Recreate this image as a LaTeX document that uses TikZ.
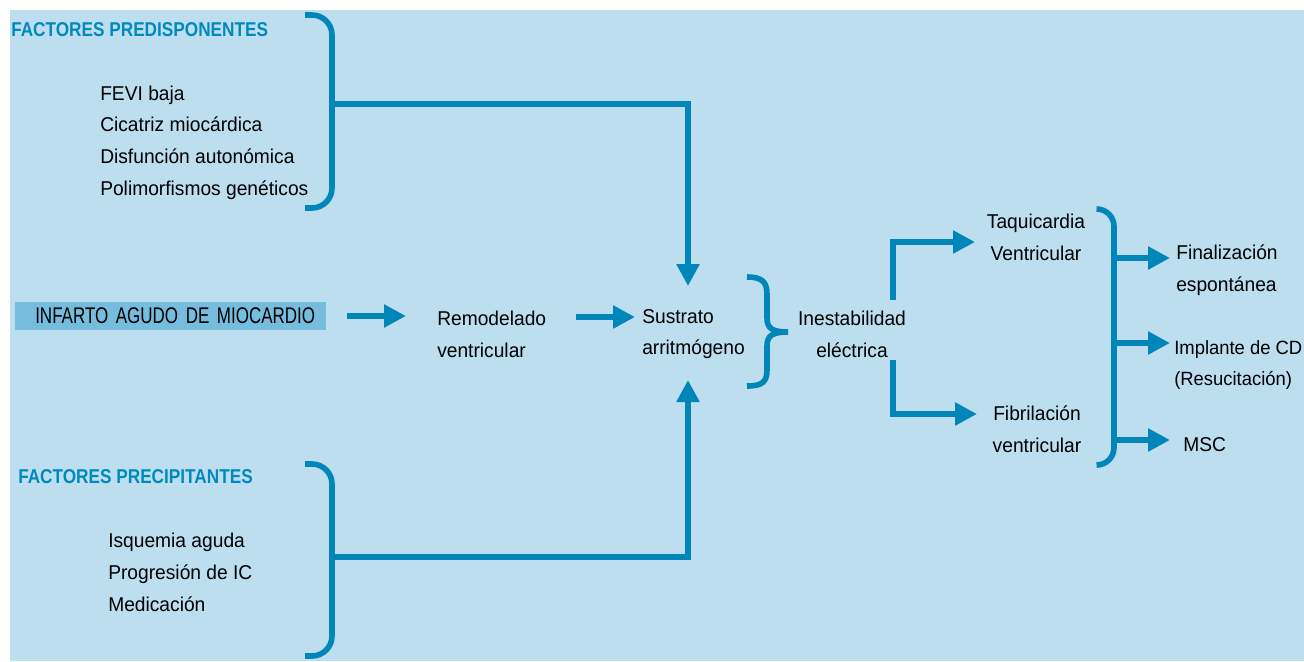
\documentclass[tikz,border=0pt]{standalone}
\usepackage{fontspec}
\setmainfont{Liberation Sans}[FakeStretch=0.96]
\newfontfamily\headfont{Liberation Sans}[FakeStretch=0.86]
\newfontfamily\boxfont{Liberation Sans}[FakeStretch=0.75]
\usetikzlibrary{calc,arrows.meta,positioning}
\definecolor{bgblue}{RGB}{189,222,238}
\definecolor{darkblue}{RGB}{0,134,185}
\definecolor{headblue}{RGB}{0,137,190}
\definecolor{boxblue}{RGB}{117,188,221}

\begin{document}
\begin{tikzpicture}[x=0.75pt, y=-0.75pt, >={Triangle[length=16.5pt, width=16.5pt]}, flow/.style={draw=darkblue, line width=4.9pt, ->}, bracketline/.style={draw=darkblue, line width=4.2pt}]
    % Define styles for text blocks, headings and the infarct box
    \tikzstyle{txt} = [inner sep=0pt, font=\fontsize{15}{23.8}\selectfont]
    \tikzstyle{heading} = [inner sep=0pt, text=headblue, font=\headfont\bfseries\fontsize{15}{18}\selectfont]
    \tikzstyle{infbox} = [fill=boxblue, minimum height=21pt, text width=218.25pt, inner xsep=15pt, inner ysep=0pt, align=left, font=\boxfont\fontsize{17}{20}\selectfont]

    % Background panel
    \useasboundingbox (0,0) rectangle (1304,661);
    \fill[bgblue] (10,10) rectangle (1304,661);

    % Nodes placement
    \node [heading, anchor=west] (predisp) at (11,30) {FACTORES PREDISPONENTES};
    \node [txt, anchor=west, align=left] (predlist) at (100,142.5) {FEVI baja\\Cicatriz miocárdica\\Disfunción autonómica\\Polimorfismos genéticos};
    \node [infbox, anchor=west, inner xsep=0pt, text width=233.25pt] (infarto) at (15,316) {\hspace*{15pt}INFARTO AGUDO DE MIOCARDIO};
    \node [txt, anchor=west, align=left] (remodelado) at (437,334) {Remodelado\\ventricular};
    \node [txt, anchor=west, align=left] (sustrato) at (642,334) {Sustrato\\arritmógeno};
    \node [txt, align=center] (inestab) at (852,334) {Inestabilidad\\eléctrica};
    \node [txt, align=center] (tv) at (1036,237.5) {Taquicardia\\Ventricular};
    \node [txt, align=center] (fv) at (1037,429) {Fibrilación\\ventricular};
    \node [txt, anchor=west, align=left] (final) at (1176,270) {Finalización\\espontánea};
    \node [txt, anchor=west, align=left, font=\fontsize{14.4}{23.8}\selectfont] (implante) at (1174,365) {Implante de CD\\(Resucitación)};
    \node [txt, anchor=west] (msc) at (1183,445) {MSC};
    \node [heading, anchor=west] (precip) at (18,477) {FACTORES PRECIPITANTES};
    \node [txt, anchor=west, align=left] (preclist) at (108,572.5) {Isquemia aguda\\Progresión de IC\\Medicación};

    % Bracket stems and arrow ends
    \coordinate (predStem) at (332,104);
    \coordinate (precStem) at (332,557);
    \coordinate (sustratoN) at (688,286);
    \coordinate (sustratoS) at (688,380);
    \coordinate (infartoOut) at (347,316);
    \coordinate (remodeladoIn) at (406,316);
    \coordinate (remodeladoOut) at (576,317);
    \coordinate (sustratoIn) at (635,317);
    \coordinate (inestabN) at (893,300);
    \coordinate (inestabS) at (893,360);
    \coordinate (tvIn) at (975,242);
    \coordinate (fvIn) at (977,414);
    \coordinate (outA) at (1114,258);
    \coordinate (outB) at (1114,343);
    \coordinate (outC) at (1114,440);
    \coordinate (finalIn) at (1170,258);
    \coordinate (implanteIn) at (1170,343);
    \coordinate (mscIn) at (1170,440);

    % Brackets
    \draw[bracketline, rounded corners=15pt] (305,15) -- (332,15) -- (332,208) -- (305,208);
    \draw[bracketline, rounded corners=15pt] (305,464) -- (332,464) -- (332,656) -- (305,656);
    \draw[bracketline, rounded corners=13pt] (1097,209) -- (1114,209) -- (1114,465) -- (1097,465);
    \draw[bracketline] (747,277) .. controls (762,277) and (767,282) .. (767,294) -- (767,318) .. controls (767,328) and (772,332) .. (788,332) .. controls (772,332) and (767,336) .. (767,346) -- (767,370) .. controls (767,382) and (762,386) .. (747,386);

    % Draw edges
    \draw[flow] (predStem) -| (sustratoN);
    \draw[flow] (precStem) -| (sustratoS);
    \draw[flow] (infartoOut) -- (remodeladoIn);
    \draw[flow] (remodeladoOut) -- (sustratoIn);
    \draw[flow] (inestabN) |- (tvIn);
    \draw[flow] (inestabS) |- (fvIn);
    \draw[flow] (outA) -- (finalIn);
    \draw[flow] (outB) -- (implanteIn);
    \draw[flow] (outC) -- (mscIn);
\end{tikzpicture}
\end{document}
